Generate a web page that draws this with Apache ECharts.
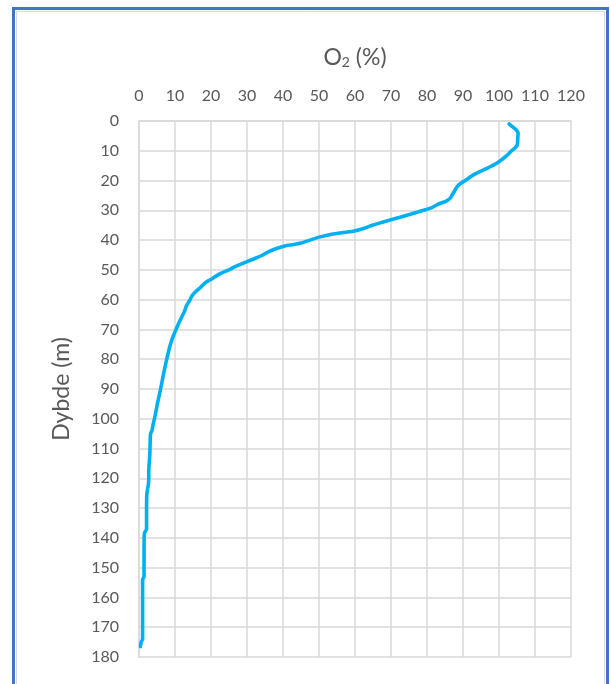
<!DOCTYPE html>
<html>
<head>
<meta charset="utf-8">
<script src="https://cdn.jsdelivr.net/npm/echarts@6/dist/echarts.min.js"></script>
<style>
html,body{margin:0;padding:0;background:#fff;}
#c{width:611px;height:684px;}
</style>
</head>
<body>
<div id="c"></div>
<script>
// Depth (m)
var depth = [1, 2, 3, 4, 6, 8, 9, 10, 12, 14, 16, 18, 20, 21, 22, 24, 26, 27, 28, 29,
  30, 31, 32, 33, 34, 35, 36, 37, 38, 39, 40, 41, 41.5, 42, 43, 44, 45, 46, 47, 48,
  49, 50, 51, 52, 53, 54, 55, 56, 57, 58, 59, 60, 62, 64, 66, 68, 70, 72, 74, 76,
  78, 80, 85, 90, 95, 100, 102, 104, 105, 112, 118, 121, 125, 130, 137, 138.5, 145, 153, 154, 165,
  174, 175, 176.5];
// O2 (%)
var o2 = [102.8, 103.8, 104.8, 105.3, 105.2, 105.1, 104.5, 103.5, 101.8, 99.6, 96.5, 93.0, 90.6, 89.3, 88.4, 87.4, 86.4, 85.2, 83.0, 81.5,
  79.0, 76.3, 73.5, 70.5, 67.6, 64.8, 62.6, 59.5, 53.5, 50.0, 47.5, 45.0, 43.0, 40.5, 37.8, 35.8, 34.4, 32.5, 30.5, 28.5,
  26.5, 25.0, 23.0, 21.5, 20.3, 18.8, 17.8, 17.0, 16.0, 15.2, 14.6, 14.2, 13.2, 12.6, 11.8, 11.0, 10.3, 9.6, 9.0, 8.5,
  8.1, 7.7, 6.8, 6.0, 5.1, 4.3, 3.9, 3.6, 3.2, 3.0, 2.7, 2.7, 2.2, 2.1, 2.1, 1.5, 1.4, 1.4, 1.0, 1.0,
  1.0, 0.6, 0.4];
var xTicks = [0, 120, 10];   // min, max, interval
var yTicks = [0, 180, 10];
var xName = 'O{sub|2} (%)';
var yName = 'Dybde (m)';

var pts = depth.map(function (d, i) { return [o2[i], d]; });
var txt = '#595959', grid = '#d9d9d9', font = 'Lato';

var chart = echarts.init(document.getElementById('c'), null, {renderer: 'canvas'});
chart.setOption({
  animation: false,
  backgroundColor: '#fff',
  graphic: [
    {type: 'rect', shape: {x: 16.5, y: 11.5, width: 588, height: 700}, style: {fill: 'none', stroke: '#d9d9d9', lineWidth: 1}, z: 0},
    {type: 'rect', shape: {x: 13.5, y: 8.5, width: 594, height: 700}, style: {fill: 'none', stroke: '#4472c4', lineWidth: 3}, z: 0}
  ],
  grid: {left: 139, right: 40, top: 121, bottom: 27, containLabel: false},
  xAxis: {
    type: 'value', position: 'top', min: xTicks[0], max: xTicks[1], interval: xTicks[2],
    name: xName, nameLocation: 'middle', nameGap: 52,
    nameTextStyle: {color: txt, fontSize: 23, fontFamily: font,
      rich: {sub: {fontSize: 14, color: txt, fontFamily: font, verticalAlign: 'bottom', padding: [9, 0, 0, 0]}}},
    axisLine: {show: true, lineStyle: {color: grid, width: 1.5}},
    axisTick: {show: false},
    axisLabel: {color: txt, fontSize: 16, fontFamily: font, margin: 17},
    splitLine: {show: true, lineStyle: {color: grid, width: 1.5}}
  },
  yAxis: {
    type: 'value', inverse: true, min: yTicks[0], max: yTicks[1], interval: yTicks[2],
    name: yName, nameLocation: 'middle', nameGap: 66, nameRotate: 90,
    nameTextStyle: {color: txt, fontSize: 23, fontFamily: font},
    axisLine: {show: true, lineStyle: {color: grid, width: 1.5}},
    axisTick: {show: false},
    axisLabel: {color: txt, fontSize: 16, fontFamily: font, margin: 20},
    splitLine: {show: true, lineStyle: {color: grid, width: 1.5}}
  },
  series: [{
    type: 'line', data: pts, showSymbol: false, symbol: 'none',
    lineStyle: {color: '#00b0f0', width: 3.6, cap: 'round', join: 'round'},
    smooth: 0.2
  }]
});
</script>
</body>
</html>
